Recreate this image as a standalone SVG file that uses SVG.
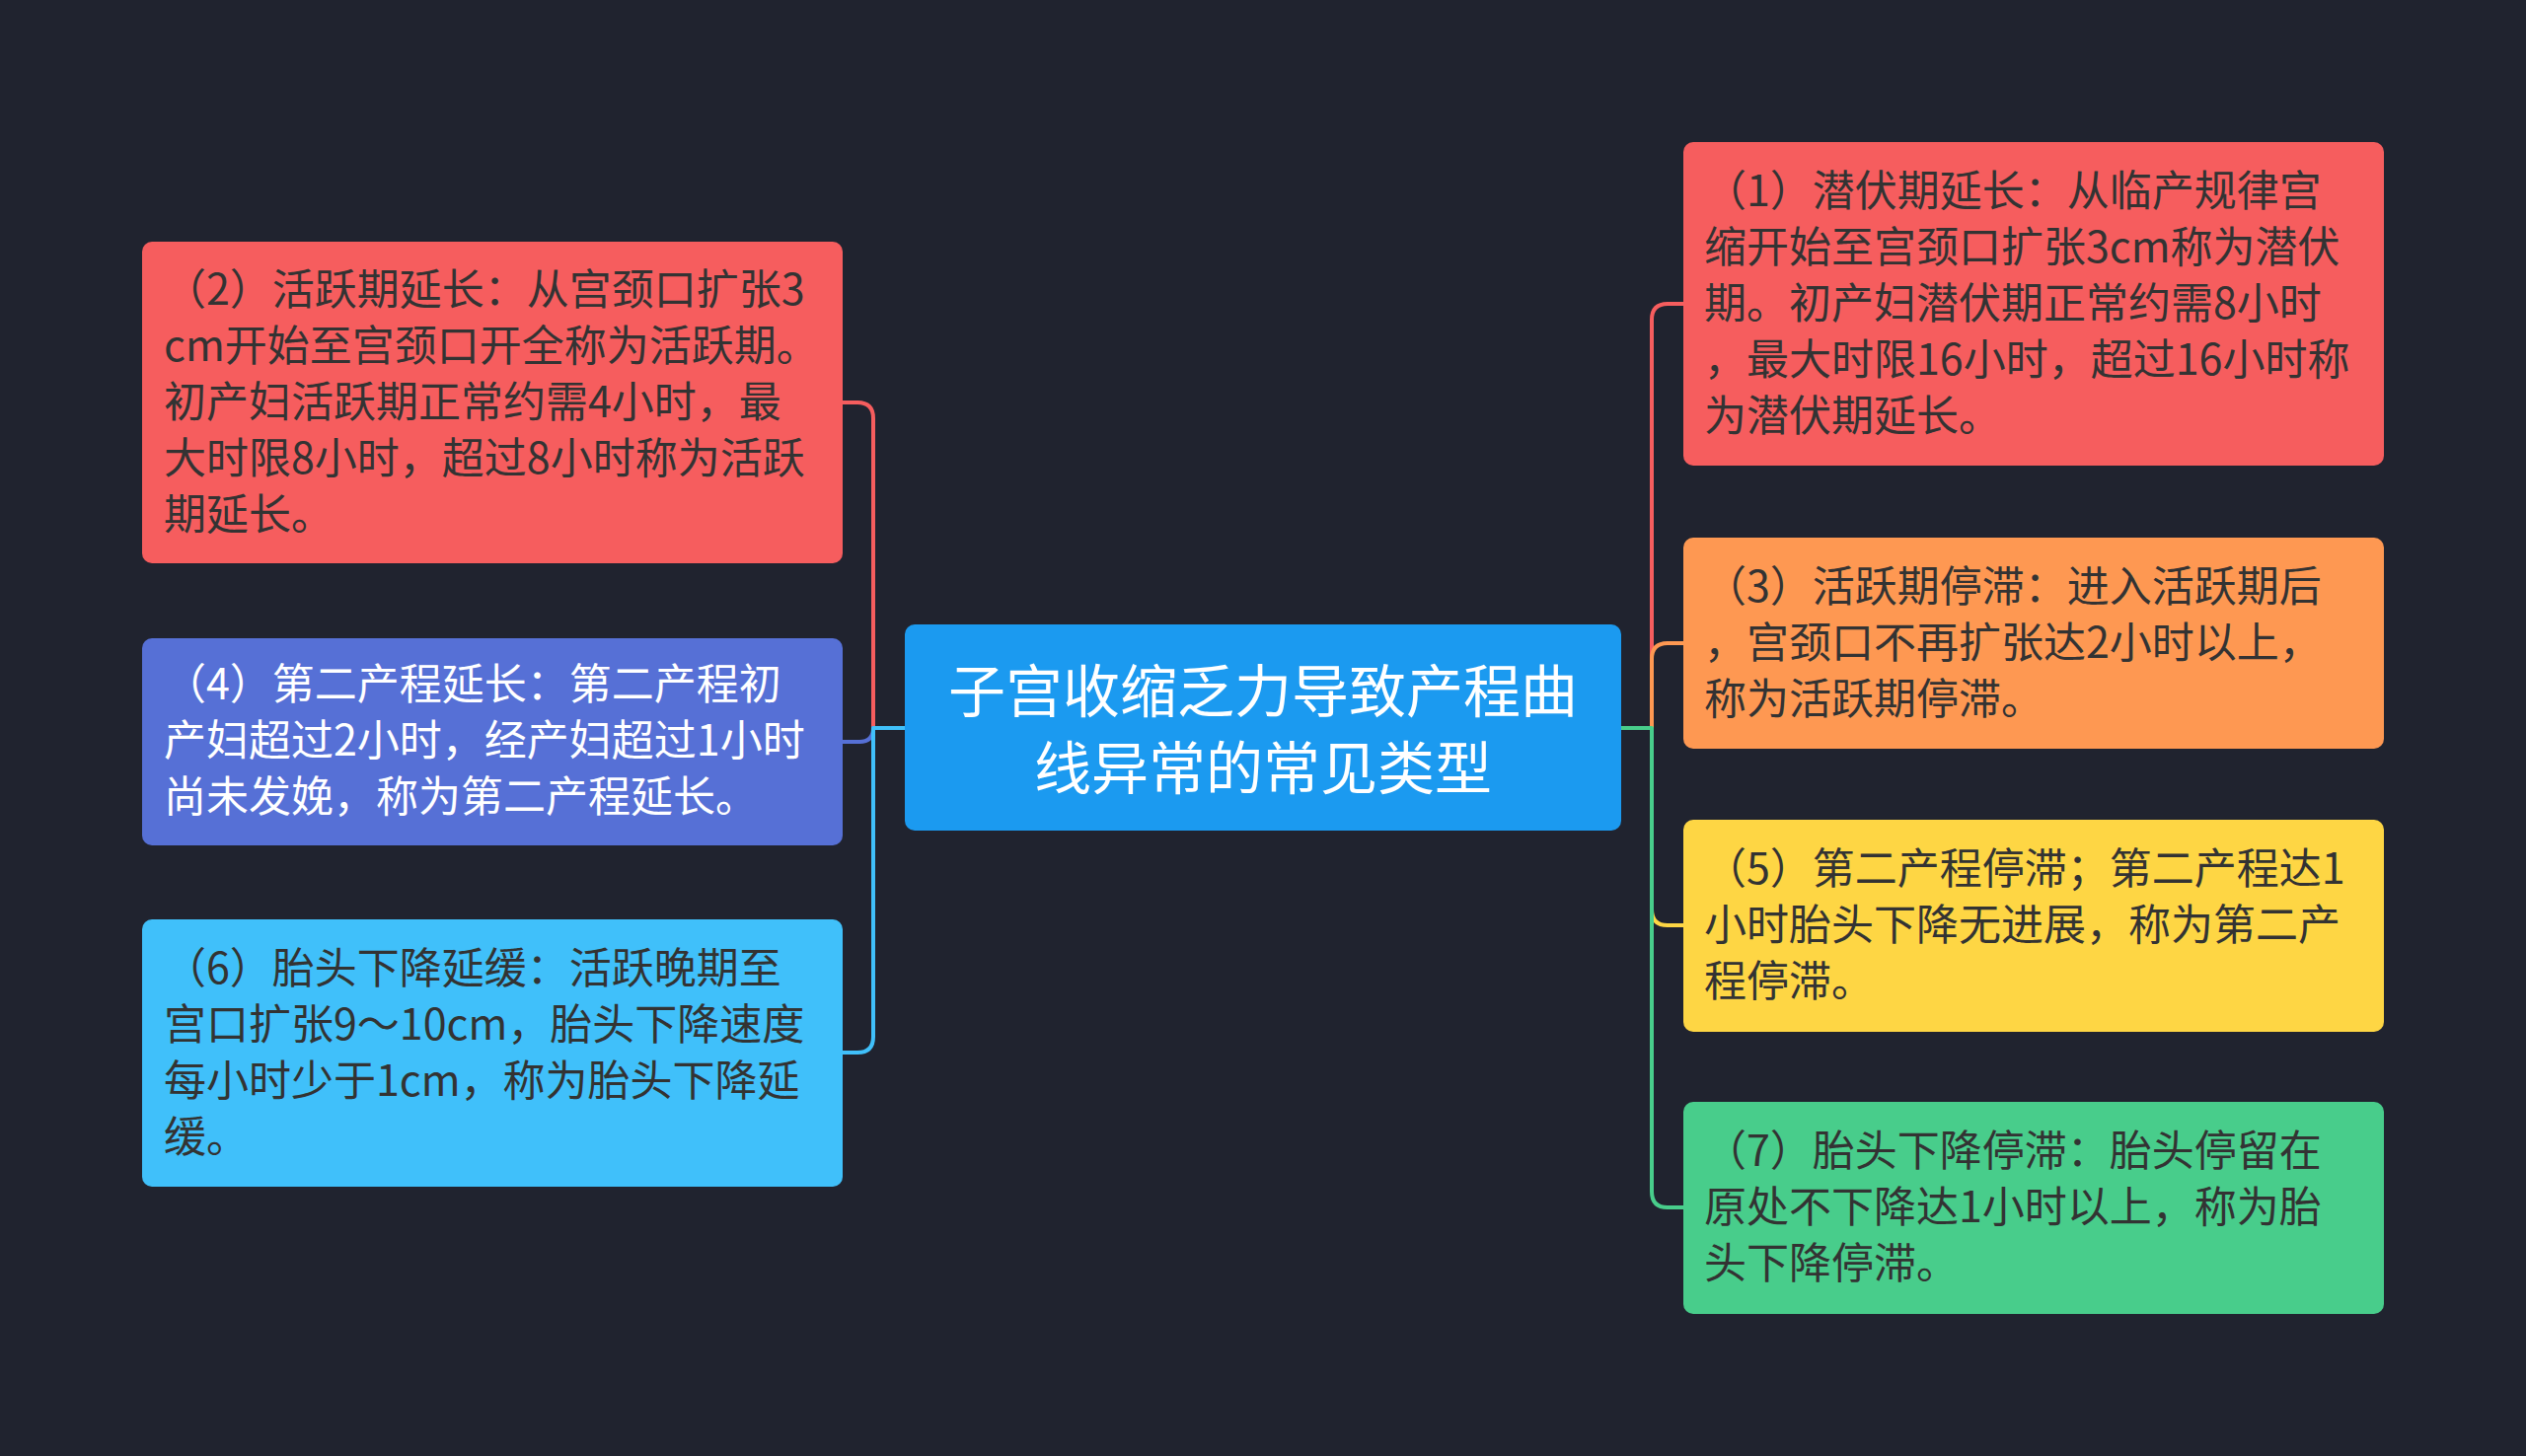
<svg xmlns="http://www.w3.org/2000/svg" width="2560" height="1476" viewBox="0 0 2560 1476">
<style>
.t{font-family:"Noto Sans CJK SC","Noto Sans",sans-serif;font-size:43px;fill:#333333}
.w{fill:#ffffff}
.c{font-family:"Noto Sans CJK SC","Noto Sans",sans-serif;font-size:58px;fill:#ffffff;text-anchor:middle}
.ln{fill:none;stroke-width:4;stroke-linecap:round;stroke-linejoin:round}
</style>
<rect x="0" y="0" width="2560" height="1476" fill="#20232f"/>
<g id="connectors">
<path class="ln" stroke="#f65d5e" d="M917 738 H885 V424 Q885 408 869 408 H854"/>
<path class="ln" stroke="#5670d6" d="M917 738 H885 Q885 752 871 752 H854"/>
<path class="ln" stroke="#40c0fa" d="M917 738 H885 V1051 Q885 1067 869 1067 H854"/>
<path class="ln" stroke="#f65d5e" d="M1643 738 H1674 V324 Q1674 308 1690 308 H1706"/>
<path class="ln" stroke="#fe9852" d="M1643 738 H1674 V668 Q1674 652 1690 652 H1706"/>
<path class="ln" stroke="#fed644" d="M1643 738 H1674 V922 Q1674 938 1690 938 H1706"/>
<path class="ln" stroke="#48cd8b" d="M1643 738 H1674 V1208 Q1674 1224 1690 1224 H1706"/>
</g>
<g id="center">
<rect x="917" y="633" width="726" height="209" rx="10" fill="#1b9af0"/>
<text class="c" x="1280" y="722">子宫收缩乏力导致产程曲</text>
<text class="c" x="1280" y="800">线异常的常见类型</text>
</g>
<g id="node1">
<rect x="1706" y="144" width="710" height="328" rx="10" fill="#f65d5e"/>
<text class="t" x="1727" y="209">（1）潜伏期延长：从临产规律宫</text>
<text class="t" x="1727" y="266">缩开始至宫颈口扩张3cm称为潜伏</text>
<text class="t" x="1727" y="323">期。初产妇潜伏期正常约需8小时</text>
<text class="t" x="1727" y="380">，最大时限16小时，超过16小时称</text>
<text class="t" x="1727" y="437">为潜伏期延长。</text>
</g>
<g id="node2">
<rect x="144" y="245" width="710" height="326" rx="10" fill="#f65d5e"/>
<text class="t" x="166" y="309">（2）活跃期延长：从宫颈口扩张3</text>
<text class="t" x="166" y="366">cm开始至宫颈口开全称为活跃期。</text>
<text class="t" x="166" y="423">初产妇活跃期正常约需4小时，最</text>
<text class="t" x="166" y="480">大时限8小时，超过8小时称为活跃</text>
<text class="t" x="166" y="537">期延长。</text>
</g>
<g id="node3">
<rect x="1706" y="545" width="710" height="214" rx="10" fill="#fe9852"/>
<text class="t" x="1727" y="610">（3）活跃期停滞：进入活跃期后</text>
<text class="t" x="1727" y="667">，宫颈口不再扩张达2小时以上，</text>
<text class="t" x="1727" y="724">称为活跃期停滞。</text>
</g>
<g id="node4">
<rect x="144" y="647" width="710" height="210" rx="10" fill="#5670d6"/>
<text class="t w" x="166" y="709">（4）第二产程延长：第二产程初</text>
<text class="t w" x="166" y="766">产妇超过2小时，经产妇超过1小时</text>
<text class="t w" x="166" y="823">尚未发娩，称为第二产程延长。</text>
</g>
<g id="node5">
<rect x="1706" y="831" width="710" height="215" rx="10" fill="#fed644"/>
<text class="t" x="1727" y="896">（5）第二产程停滞；第二产程达1</text>
<text class="t" x="1727" y="953">小时胎头下降无进展，称为第二产</text>
<text class="t" x="1727" y="1010">程停滞。</text>
</g>
<g id="node6">
<rect x="144" y="932" width="710" height="271" rx="10" fill="#40c0fa"/>
<text class="t" x="166" y="997">（6）胎头下降延缓：活跃晚期至</text>
<text class="t" x="166" y="1054">宫口扩张9～10cm，胎头下降速度</text>
<text class="t" x="166" y="1111">每小时少于1cm，称为胎头下降延</text>
<text class="t" x="166" y="1168">缓。</text>
</g>
<g id="node7">
<rect x="1706" y="1117" width="710" height="215" rx="10" fill="#48cd8b"/>
<text class="t" x="1727" y="1182">（7）胎头下降停滞：胎头停留在</text>
<text class="t" x="1727" y="1239">原处不下降达1小时以上，称为胎</text>
<text class="t" x="1727" y="1296">头下降停滞。</text>
</g>
</svg>
